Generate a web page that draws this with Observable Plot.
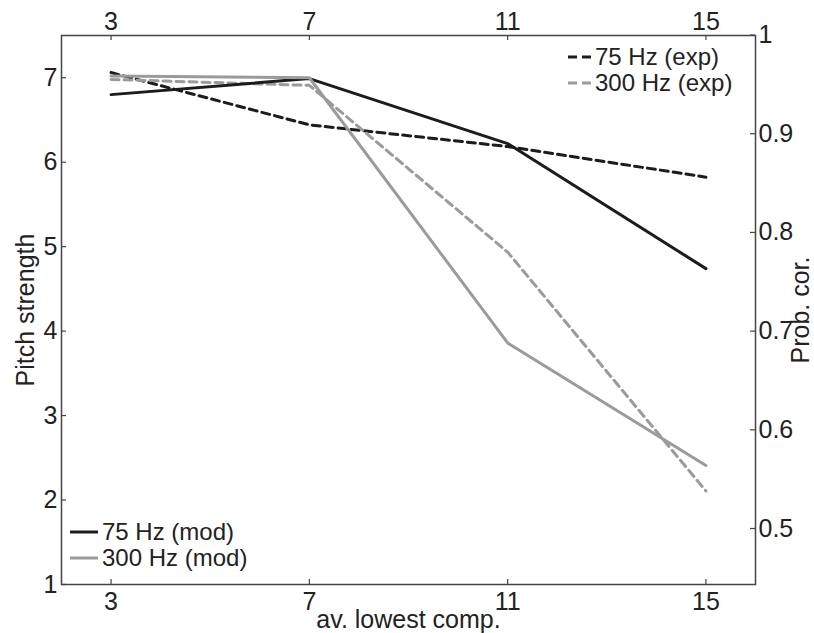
<!DOCTYPE html>
<html>
<head>
<meta charset="utf-8">
<script src="https://cdn.jsdelivr.net/npm/d3@7"></script>
<script src="https://cdn.jsdelivr.net/npm/@observablehq/plot@0.6"></script>
<style>
  html, body { margin: 0; padding: 0; background: #fff; }
  #wrap { position: relative; width: 814px; height: 633px; font-family: "Liberation Sans", Arial, sans-serif; }
  .leg { position: absolute; font-size: 24px; color: #222; line-height: 26px; }
  .row { display: flex; align-items: center; height: 26px; white-space: nowrap; }
  .row svg { margin-right: 4px; }
</style>
</head>
<body>
<div id="wrap"></div>
<script>
// ---- data ----
const lowestComp = [3, 7, 11, 15];
const mod75 = [6.80, 6.99, 6.22, 4.74];      // pitch strength (left axis)
const mod300 = [7.02, 7.00, 3.86, 2.41];     // pitch strength (left axis)
const exp75 = [0.962, 0.909, 0.887, 0.856]; // prob. correct (right axis)
const exp300 = [0.955, 0.949, 0.780, 0.538]; // prob. correct (right axis)
const xTicks = [3, 7, 11, 15];
const leftTicks = [1, 2, 3, 4, 5, 6, 7];
const rightTicks = [0.5, 0.6, 0.7, 0.8, 0.9, 1];
const seriesNames = ["75 Hz (mod)", "300 Hz (mod)", "75 Hz (exp)", "300 Hz (exp)"];

// right axis (prob. cor.) expressed on the left axis (pitch strength) scale
const probToPitch = p => 1.663 + (p - 0.5) * 11.685;

const BLACK = "#1c1c1c", GRAY = "#9b9b9b", AXIS = "#444";

const rows = [];
lowestComp.forEach((x, i) => {
  rows.push({series: seriesNames[0], x, y: mod75[i]});
  rows.push({series: seriesNames[1], x, y: mod300[i]});
  rows.push({series: seriesNames[2], x, y: probToPitch(exp75[i])});
  rows.push({series: seriesNames[3], x, y: probToPitch(exp300[i])});
});
const sel = s => rows.filter(d => d.series === s);

const W = 814, H = 633, ML = 61, MR = 59, MT = 35, MB = 49, TICK = 5;
const frameW = W - ML - MR, frameH = H - MT - MB;

const plot = Plot.plot({
  width: W,
  height: H,
  marginLeft: ML,
  marginRight: MR,
  marginTop: MT,
  marginBottom: MB,
  style: {fontFamily: '"Liberation Sans", Arial, sans-serif', fontSize: "25px", color: "#222", background: "#fff"},
  x: {domain: [2, 16]},
  y: {domain: [1, 7.5]},
  marks: [
    Plot.frame({stroke: AXIS, strokeWidth: 1.5}),
    // inward-pointing tick marks (MATLAB style)
    Plot.tickX(xTicks, {x: d => d, insetTop: frameH - TICK, stroke: AXIS, strokeWidth: 1.2}),
    Plot.tickX(xTicks, {x: d => d, insetBottom: frameH - TICK, stroke: AXIS, strokeWidth: 1.2}),
    Plot.tickY(leftTicks, {y: d => d, insetRight: frameW - TICK, stroke: AXIS, strokeWidth: 1.2}),
    Plot.tickY(rightTicks.map(probToPitch), {y: d => d, insetLeft: frameW - TICK, stroke: AXIS, strokeWidth: 1.2}),
    // tick labels
    Plot.axisX({anchor: "bottom", ticks: xTicks, tickFormat: d => String(d), tickSize: 0, tickPadding: 8, label: null}),
    Plot.axisX({anchor: "top", ticks: xTicks, tickFormat: d => String(d), tickSize: 0, tickPadding: 6, label: null}),
    Plot.axisY({anchor: "left", ticks: leftTicks, tickFormat: d => String(d), tickSize: 0, tickPadding: 4, label: null}),
    Plot.axisY({anchor: "right", ticks: rightTicks.map(probToPitch), tickFormat: (d, i) => String(rightTicks[i]), tickSize: 0, tickPadding: 3, label: null}),
    // axis titles
    Plot.text(["Pitch strength"], {frameAnchor: "left", text: d => d, rotate: -90, textAnchor: "middle", lineAnchor: "middle", dx: -36, fill: "#222"}),
    Plot.text(["Prob. cor."], {frameAnchor: "right", text: d => d, rotate: -90, textAnchor: "middle", lineAnchor: "middle", dx: 45, fill: "#222"}),
    Plot.text(["av. lowest comp."], {frameAnchor: "bottom", text: d => d, textAnchor: "middle", lineAnchor: "middle", dy: 35, fill: "#222"}),
    // data
    Plot.line(sel(seriesNames[2]), {x: "x", y: "y", stroke: BLACK, strokeWidth: 3, strokeDasharray: "8,5"}),
    Plot.line(sel(seriesNames[3]), {x: "x", y: "y", stroke: GRAY, strokeWidth: 3, strokeDasharray: "8,5"}),
    Plot.line(sel(seriesNames[0]), {x: "x", y: "y", stroke: BLACK, strokeWidth: 3}),
    Plot.line(sel(seriesNames[1]), {x: "x", y: "y", stroke: GRAY, strokeWidth: 3})
  ]
});

const wrap = document.getElementById("wrap");
wrap.appendChild(plot);

function legend(items, left, top) {
  const div = document.createElement("div");
  div.className = "leg";
  div.style.left = left + "px";
  div.style.top = top + "px";
  for (const it of items) {
    const r = document.createElement("div");
    r.className = "row";
    r.innerHTML = `<svg width="${it.w}" height="10"><line x1="0" x2="${it.w}" y1="5" y2="5" stroke="${it.color}" stroke-width="3" ${it.dash ? `stroke-dasharray="${it.dash}"` : ""}/></svg><span>${it.name}</span>`;
    div.appendChild(r);
  }
  wrap.appendChild(div);
}
legend([
  {name: seriesNames[2], color: BLACK, dash: "9,5", w: 23},
  {name: seriesNames[3], color: GRAY, dash: "9,5", w: 23}
], 568, 44);
legend([
  {name: seriesNames[0], color: BLACK, w: 28},
  {name: seriesNames[1], color: GRAY, w: 28}
], 70, 519);
</script>
</body>
</html>
